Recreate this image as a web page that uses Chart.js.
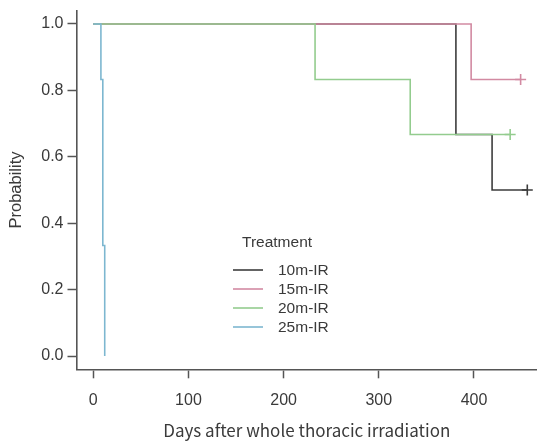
<!DOCTYPE html>
<html>
<head>
<meta charset="utf-8">
<script src="https://cdn.jsdelivr.net/npm/chart.js@4/dist/chart.umd.min.js"></script>
<style>
html,body{margin:0;padding:0;background:#ffffff;}
canvas{display:block;}
</style>
</head>
<body>
<canvas id="c" width="537" height="441"></canvas>
<script>
// ---- data ----
const seriesNames = ['10m-IR', '15m-IR', '20m-IR', '25m-IR'];
const days10 = [0, 381, 419, 456];
const surv10 = [1, 0.667, 0.5, 0.5];
const days15 = [0, 397, 449];
const surv15 = [1, 0.833, 0.833];
const days20 = [0, 233, 333, 438];
const surv20 = [1, 0.833, 0.667, 0.667];
const days25 = [0, 8, 10, 12];
const surv25 = [1, 0.833, 0.333, 0];
const censoredAtEnd = [true, true, true, false];
const xTickValues = [0, 100, 200, 300, 400];
const yTickValues = [0, 0.2, 0.4, 0.6, 0.8, 1.0];
const legendTitle = 'Treatment';
const xTitle = 'Days after whole thoracic irradiation';
const yTitle = 'Probability';

// ---- styles ----
const colors = ['#3d3d3d', '#d28aa2', '#93cc8e', '#7db7d0'];
const axisColor = '#555555';
const textColor = '#3a3a3a';
const baseFont = "'Liberation Sans', Arial, sans-serif";

const allDays = [days10, days15, days20, days25];
const allSurv = [surv10, surv15, surv20, surv25];

const datasets = seriesNames.map((name, i) => ({
  label: name,
  data: allDays[i].map((d, j) => ({x: d, y: allSurv[i][j]})),
  borderColor: colors[i],
  backgroundColor: colors[i],
  borderWidth: 1.6,
  stepped: 'before',
  fill: false,
  order: 4 - i,
  pointStyle: 'cross',
  pointBorderWidth: 1.6,
  pointBorderColor: colors[i],
  pointRadius: ctx => (censoredAtEnd[i] && ctx.dataIndex === allDays[i].length - 1) ? 5.5 : 0,
  pointHoverRadius: 0
}));

const legendPlugin = {
  id: 'kmLegend',
  afterDatasetsDraw(chart) {
    const ctx = chart.ctx;
    ctx.save();
    ctx.font = '15.5px ' + baseFont;
    ctx.fillStyle = textColor;
    ctx.textBaseline = 'middle';
    ctx.textAlign = 'left';
    ctx.fillText(legendTitle, 242, 243);
    const rows = [270, 289, 308, 327];
    seriesNames.forEach((n, i) => {
      ctx.strokeStyle = colors[i];
      ctx.lineWidth = 1.6;
      ctx.beginPath();
      ctx.moveTo(233, rows[i]);
      ctx.lineTo(263, rows[i]);
      ctx.stroke();
      ctx.fillStyle = textColor;
      ctx.fillText(n, 278, rows[i] + 1);
    });
    ctx.restore();
  }
};

const bgPlugin = {
  id: 'bg',
  beforeDraw(chart) {
    const ctx = chart.ctx;
    ctx.save();
    ctx.fillStyle = '#ffffff';
    ctx.fillRect(0, 0, chart.width, chart.height);
    ctx.restore();
  }
};

new Chart(document.getElementById('c'), {
  type: 'line',
  data: {datasets},
  plugins: [bgPlugin, legendPlugin],
  options: {
    responsive: false,
    animation: false,
    layout: {autoPadding: false, padding: {left: 0, right: 0, top: 10.7, bottom: 0}},
    plugins: {legend: {display: false}, tooltip: {enabled: false}},
    events: [],
    scales: {
      x: {
        type: 'linear',
        min: -17.65,
        max: 466.2,
        afterBuildTicks: s => { s.ticks = xTickValues.map(v => ({value: v})); },
        afterFit: s => { s.height = 71.7; s.paddingLeft = 0; s.paddingRight = 0; },
        grid: {display: true, drawOnChartArea: false, drawTicks: true, tickLength: 9, tickWidth: 1.5, tickColor: axisColor},
        border: {display: true, color: axisColor, width: 1.6},
        ticks: {color: textColor, font: {family: baseFont, size: 16}, padding: 13, maxRotation: 0, autoSkip: false, callback: v => String(v)},
        title: {display: true, text: xTitle, color: textColor, font: {family: "'Noto Sans CJK JP', 'Noto Sans', sans-serif", size: 17}, padding: {top: 0, bottom: 0}}
      },
      y: {
        type: 'linear',
        min: -0.04,
        max: 1.04,
        afterBuildTicks: s => { s.ticks = yTickValues.map(v => ({value: v})); },
        afterFit: s => { s.width = 76.5; s.paddingTop = 0; s.paddingBottom = 0; },
        grid: {display: true, drawOnChartArea: false, drawTicks: true, tickLength: 9, tickWidth: 1.5, tickColor: axisColor},
        border: {display: true, color: axisColor, width: 1.6},
        ticks: {color: textColor, font: {family: baseFont, size: 16}, padding: 4, autoSkip: false, callback: v => v.toFixed(1)},
        title: {display: true, text: yTitle, color: textColor, font: {family: baseFont, size: 16.5}, padding: {top: 7, bottom: 0}}
      }
    }
  }
});
</script>
</body>
</html>
